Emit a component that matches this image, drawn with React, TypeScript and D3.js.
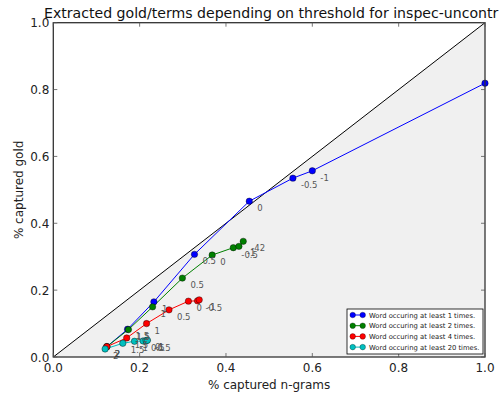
import React from "react";
import * as d3 from "d3";

const title = "Extracted gold/terms depending on threshold for inspec-uncontr";
const xLabel = "% captured n-grams";
const yLabel = "% captured gold";
const ticks = [0, 0.2, 0.4, 0.6, 0.8, 1.0];

const blueX = [0.124, 0.172, 0.233, 0.327, 0.454, 0.555, 0.6, 1.0];
const blueY = [0.031, 0.083, 0.165, 0.307, 0.466, 0.535, 0.557, 0.819];
const blueLabels = ["2", "1.5", "1", "0.5", "0", "-0.5", "-1", ""];

const greenX = [0.124, 0.174, 0.23, 0.299, 0.368, 0.417, 0.43, 0.44];
const greenY = [0.031, 0.082, 0.15, 0.236, 0.305, 0.327, 0.331, 0.346];
const greenLabels = ["2", "1.5", "1", "0.5", "0", "-0.5", "-1", "-42"];

const redX = [0.124, 0.17, 0.216, 0.268, 0.313, 0.334, 0.338];
const redY = [0.031, 0.057, 0.1, 0.141, 0.167, 0.168, 0.171];
const redLabels = ["2", "1.5", "1", "0.5", "0", "-0.5", "-1"];

const cyanX = [0.12, 0.161, 0.188, 0.208, 0.217, 0.215, 0.218];
const cyanY = [0.024, 0.041, 0.047, 0.048, 0.05, 0.049, 0.05];
const cyanLabels = ["2", "1.5", "1", "0.5", "0", "-0.5", "-1"];

const seriesNames = [
  "Word occuring at least 1 times.",
  "Word occuring at least 2 times.",
  "Word occuring at least 4 times.",
  "Word occuring at least 20 times.",
];
const colors = ["#0000ff", "#008000", "#ff0000", "#00bfbf"];

export default function App() {
  const W = 500, H = 394;
  const L = 53.3, R = 485, T = 22.7, B = 357;
  const x = d3.scaleLinear().domain([0, 1]).range([L, R]);
  const y = d3.scaleLinear().domain([0, 1]).range([B, T]);
  const font = "DejaVu Sans, sans-serif";

  const series = [
    { xs: blueX, ys: blueY, labels: blueLabels },
    { xs: greenX, ys: greenY, labels: greenLabels },
    { xs: redX, ys: redY, labels: redLabels },
    { xs: cyanX, ys: cyanY, labels: cyanLabels },
  ];
  const line = d3
    .line<[number, number]>()
    .x((d) => x(d[0]))
    .y((d) => y(d[1]));
  const fillPts: [number, number][] = [[0, 0], [1, 1], [1, 0]];

  const legX = 347, legY = 309, legW = 136, legH = 45, rowH = 10.7;

  return (
    <svg width={W} height={H} style={{ position: "absolute", left: 0, top: 0, background: "#fff" }} fontFamily={font}>
      <defs>
        <clipPath id="ax">
          <rect x={L} y={T} width={R - L} height={B - T} />
        </clipPath>
      </defs>
      <rect x={0} y={0} width={W} height={H} fill="#fff" />
      <path d={line(fillPts) + "Z"} fill="#f0f0f0" />
      <g clipPath="url(#ax)">
        <line x1={x(0)} y1={y(0)} x2={x(1)} y2={y(1)} stroke="#000" strokeWidth={1} />
        {series.map((s, i) => (
          <path key={i} d={line(s.xs.map((v, j) => [v, s.ys[j]]) as [number, number][]) || ""} fill="none" stroke={colors[i]} strokeWidth={1} />
        ))}
      </g>
      {series.map((s, i) => (
        <g key={"m" + i}>
          {s.xs.map((v, j) => (
            <circle key={j} cx={x(v)} cy={y(s.ys[j])} r={3.2} fill={colors[i]} stroke="#000" strokeWidth={0.4} />
          ))}
        </g>
      ))}
      {series.map((s, i) => (
        <g key={"l" + i} fontSize={8.5} fill="#555">
          {s.labels.map((t, j) => (
            <text key={j} x={x(s.xs[j]) + 8} y={y(s.ys[j]) + 10}>{t}</text>
          ))}
        </g>
      ))}
      <rect x={L} y={T} width={R - L} height={B - T} fill="none" stroke="#333" strokeWidth={1.3} />
      {ticks.map((t, i) => (
        <g key={"t" + i} stroke="#555" strokeWidth={0.8}>
          <line x1={x(t)} x2={x(t)} y1={B} y2={B - 4} />
          <line x1={x(t)} x2={x(t)} y1={T} y2={T + 4} />
          <line x1={L} x2={L + 4} y1={y(t)} y2={y(t)} />
          <line x1={R} x2={R - 4} y1={y(t)} y2={y(t)} />
        </g>
      ))}
      {ticks.map((t, i) => (
        <text key={"xl" + i} x={x(t)} y={B + 15} fontSize={12} textAnchor="middle" fill="#222">
          {t.toFixed(1)}
        </text>
      ))}
      {ticks.map((t, i) => (
        <text key={"yl" + i} x={L - 4} y={y(t) + 4.5} fontSize={12} textAnchor="end" fill="#222">
          {t.toFixed(1)}
        </text>
      ))}
      <text x={(L + R) / 2} y={B + 32} fontSize={12} textAnchor="middle" fill="#222">{xLabel}</text>
      <text transform={`translate(23,${(T + B) / 2}) rotate(-90)`} fontSize={12} textAnchor="middle" fill="#222">{yLabel}</text>
      <text x={44} y={18} fontSize={14.1} fill="#111">{title}</text>
      <rect x={legX} y={legY} width={legW} height={legH} fill="#fff" stroke="#000" strokeWidth={0.8} />
      {seriesNames.map((n, i) => {
        const cy = legY + 6 + rowH * i;
        return (
          <g key={"lg" + i}>
            <line x1={352.7} x2={362.7} y1={cy} y2={cy} stroke={colors[i]} strokeWidth={1} />
            <circle cx={352.7} cy={cy} r={2.8} fill={colors[i]} stroke="#000" strokeWidth={0.3} />
            <circle cx={362.7} cy={cy} r={2.8} fill={colors[i]} stroke="#000" strokeWidth={0.3} />
            <text x={369} y={cy + 2.5} fontSize={6.8} fill="#222">{n}</text>
          </g>
        );
      })}
    </svg>
  );
}
